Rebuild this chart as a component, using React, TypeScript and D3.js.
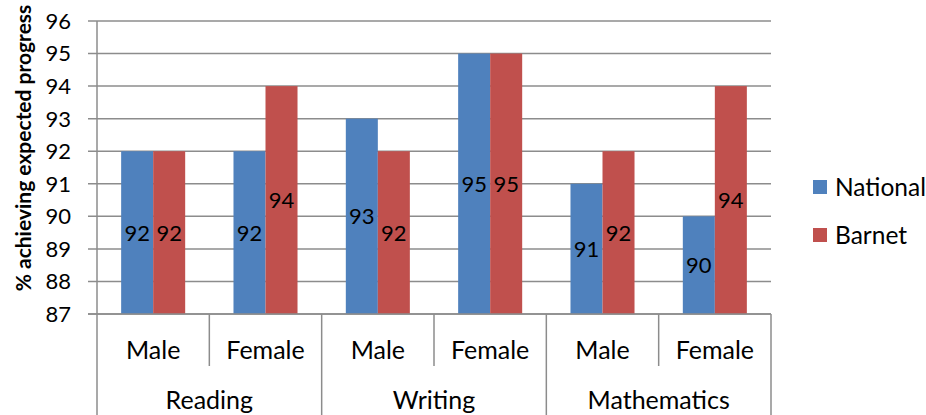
import React from "react";
import * as d3 from "d3";

const groups = ["Reading", "Writing", "Mathematics"];
const genders = ["Male", "Female"];
const seriesNames = ["National", "Barnet"];
const national = [92, 92, 93, 95, 91, 90];
const barnet = [92, 94, 92, 95, 92, 94];
const yTicks = [87, 88, 89, 90, 91, 92, 93, 94, 95, 96];
const colors = ["#4F81BD", "#C0504D"];

const W = 926, H = 415;
const left = 97, right = 771, top = 21, bottom = 314;
const FONT = "Lato, 'Open Sans', sans-serif";

export default function App() {
  const cats = groups.flatMap((g) => genders.map((s) => `${g}|${s}`));
  const x = d3.scaleBand<string>().domain(cats).range([left, right]).paddingInner(0.43).paddingOuter(0.215);
  const xs = d3.scaleBand<string>().domain(seriesNames).range([0, x.bandwidth()]);
  const y = d3.scaleLinear().domain([87, 96]).range([bottom, top]);
  const catW = (right - left) / cats.length;
  const values = [national, barnet];
  const grid = "#8c8c8c";

  return (
    <svg width={W} height={H} style={{ position: "absolute", left: 0, top: 0, background: "#fff" }} fontFamily={FONT}>
      {yTicks.map((t) => (
        <g key={t}>
          <line x1={88} x2={right} y1={y(t)} y2={y(t)} stroke={grid} strokeWidth={1.5} />
          <text x={71} y={y(t)} dy="0.36em" textAnchor="end" fontSize={22} fill="#000">{t}</text>
        </g>
      ))}
      <line x1={left} x2={left} y1={top} y2={bottom} stroke={grid} strokeWidth={1.5} />
      {cats.map((c, i) =>
        values.map((vals, si) => {
          const bx = (x(c) as number) + (xs(seriesNames[si]) as number);
          const v = vals[i];
          return (
            <g key={c + si}>
              <rect x={bx} y={y(v)} width={xs.bandwidth()} height={y(87) - y(v)} fill={colors[si]} />
              <text x={bx + xs.bandwidth() / 2} y={(y(v) + y(87)) / 2} dy="0.36em" textAnchor="middle" fontSize={22} fill="#000">{v}</text>
            </g>
          );
        })
      )}
      {/* category axis */}
      <line x1={88} x2={right} y1={bottom} y2={bottom} stroke={grid} strokeWidth={1.5} />
      {d3.range(cats.length + 1).map((i) => {
        const xx = left + i * catW;
        const long = i % 2 === 0;
        return <line key={i} x1={xx} x2={xx} y1={bottom} y2={long ? H : 366} stroke={grid} strokeWidth={1.5} />;
      })}
      {cats.map((c, i) => (
        <text key={c} x={left + (i + 0.5) * catW} y={350} dy="0.36em" textAnchor="middle" fontSize={25} fill="#000">{c.split("|")[1]}</text>
      ))}
      {groups.map((g, i) => (
        <text key={g} x={left + (i + 0.5) * 2 * catW} y={400} dy="0.36em" textAnchor="middle" fontSize={25} fill="#000">{g}</text>
      ))}
      <text transform={`translate(23,148) rotate(-90)`} dy="0.36em" textAnchor="middle" fontSize={21} fontWeight="bold" fill="#000">% achieving expected progress</text>
      {seriesNames.map((s, i) => (
        <g key={s}>
          <rect x={813} y={180 + i * 48} width={14} height={14} fill={colors[i]} />
          <text x={835} y={187 + i * 48} dy="0.36em" fontSize={24.5} fill="#000">{s}</text>
        </g>
      ))}
    </svg>
  );
}
